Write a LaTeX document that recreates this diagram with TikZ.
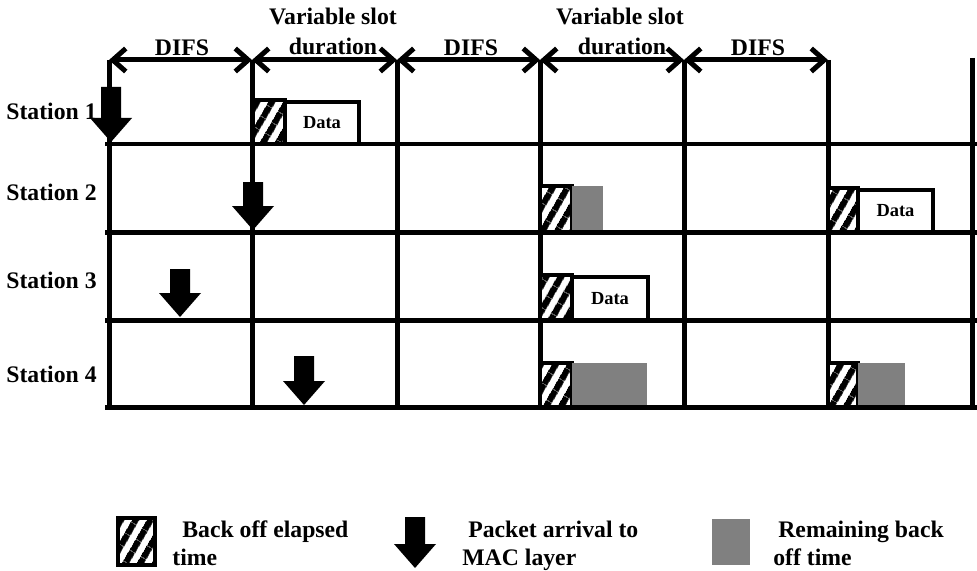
\documentclass[tikz,border=0pt]{standalone}
\usepackage{fontspec}
\setmainfont{Liberation Serif}
\usetikzlibrary{arrows.meta,patterns.meta,positioning}

\newcommand{\pktarrow}[3]{%
  \fill (#1-10,#2) -- (#1+10,#2) -- (#1+10,#3-24) -- (#1+21,#3-24) -- (#1,#3) -- (#1-21,#3-24) -- (#1-10,#3-24) -- cycle;}

\tikzset{
  gridline/.style={line width=0.1cm},
  span/.style={line width=0.1cm,{Straight Barb[length=0.26cm,width=0.46cm]}-{Straight Barb[length=0.26cm,width=0.46cm]}},
  lbl/.style={font=\fontsize{13.5}{16}\selectfont\bfseries,inner sep=0pt},
  backoff/.style={draw,line width=0.08cm,anchor=south west,inner sep=0pt,outer sep=0pt,minimum width=0.64cm,minimum height=0.88cm,
    preaction={fill=white},pattern={Lines[angle=60,distance=0.26cm,line width=0.14cm]}},
  databox/.style={draw,fill=white,line width=0.08cm,anchor=south west,inner sep=0pt,outer sep=0pt,minimum height=0.84cm,
    font=\fontsize{10.5}{12}\selectfont\bfseries},
  remain/.style={fill=black!50,anchor=south west,inner sep=0pt,outer sep=0pt,minimum height=0.84cm}
}

\begin{document}
\begin{tikzpicture}[x=0.02cm,y=-0.02cm]
\useasboundingbox (0,0) rectangle (977,571);

\coordinate (t0) at (109,60);
\coordinate (t1) at (252,60);
\coordinate (t2) at (397,60);
\coordinate (t3) at (540,60);
\coordinate (t4) at (684,60);
\coordinate (t5) at (828,60);
\coordinate (t6) at (972,58);
\coordinate (b0) at (109,407);
\coordinate (b1) at (252,407);
\coordinate (b2) at (397,407);
\coordinate (b3) at (540,407);
\coordinate (b4) at (684,407);
\coordinate (b5) at (828,407);
\coordinate (b6) at (972,407);

\draw[gridline](t0)--(b0);
\draw[gridline](t1)--(b1);
\draw[gridline](t2)--(b2);
\draw[gridline](t3)--(b3);
\draw[gridline](t4)--(b4);
\draw[gridline](t5)--(b5);
\draw[gridline](t6)--(b6);

\coordinate (l1) at (105,144);
\coordinate (r1) at (977,144);
\coordinate (l2) at (105,232);
\coordinate (r2) at (977,232);
\coordinate (l3) at (105,320);
\coordinate (r3) at (977,320);
\coordinate (l4) at (105,407);
\coordinate (r4) at (977,407);
\draw[gridline](l1)--(r1);
\draw[gridline](l2)--(r2);
\draw[gridline](l3)--(r3);
\draw[gridline](l4)--(r4);

\draw[span](t0)--(t1);
\draw[span](t1)--(t2);
\draw[span](t2)--(t3);
\draw[span](t3)--(t4);
\draw[span](t4)--(t5);

\node[lbl,anchor=base] (difs1) at (182,56) {DIFS};
\node[lbl,anchor=base] (slot1) at (333,25) {Variable slot};
\node[lbl,anchor=base] (dur1) at (333,55) {duration};
\node[lbl,anchor=base] (difs2) at (471,56) {DIFS};
\node[lbl,anchor=base] (slot2) at (620,25) {Variable slot};
\node[lbl,anchor=base] (dur2) at (622,55) {duration};
\node[lbl,anchor=base] (difs3) at (758,56) {DIFS};

\node[lbl,anchor=base west] (st1) at (6,120) {Station 1};
\node[lbl,anchor=base west] (st2) at (6,200) {Station 2};
\node[lbl,anchor=base west] (st3) at (6,288) {Station 3};
\node[lbl,anchor=base west] (st4) at (6,382) {Station 4};

\node[backoff] (bo1) at (253,144) {};
\node[databox,minimum width=1.48cm] (data1) at (bo1.south east) {Data};

\node[backoff,minimum height=0.92cm] (bo2) at (540,232) {};
\node[remain,minimum width=0.62cm,minimum height=0.87cm] (rem2) at ([yshift=0.05cm]bo2.south east) {};

\node[backoff,minimum height=0.9cm] (bo3) at (540,320) {};
\node[databox,minimum width=1.52cm,minimum height=0.86cm] (data3) at (bo3.south east) {Data};

\node[backoff] (bo4) at (540,407) {};
\node[remain,minimum width=1.5cm] (rem4) at ([yshift=0.05cm]bo4.south east) {};

\node[backoff,minimum width=0.6cm] (bo5) at (828,232) {};
\node[databox,minimum width=1.5cm] (data5) at (bo5.south east) {Data};

\node[backoff,minimum width=0.6cm] (bo6) at (828,407) {};
\node[remain,minimum width=0.94cm] (rem6) at ([yshift=0.05cm]bo6.south east) {};

\pktarrow{111}{87}{142}
\pktarrow{253}{182}{230}
\pktarrow{180}{269}{317}
\pktarrow{304}{356}{405}

\node[backoff,minimum width=0.74cm,minimum height=0.94cm] (keyback) at (118,565) {};
\node[lbl,anchor=base west] (keybacka) at (182,537) {Back off elapsed};
\node[lbl,anchor=base west] (keybackb) at (172,565) {time};

\pktarrow{415}{517}{568}
\node[lbl,anchor=base west] (keypkta) at (468,537) {Packet arrival to};
\node[lbl,anchor=base west] (keypktb) at (462,565) {MAC layer};

\node[remain,minimum width=0.76cm,minimum height=0.92cm] (keyrem) at (712,565) {};
\node[lbl,anchor=base west] (keyrema) at (778,537) {Remaining back};
\node[lbl,anchor=base west] (keyremb) at (773,565) {off time};

\end{tikzpicture}
\end{document}
